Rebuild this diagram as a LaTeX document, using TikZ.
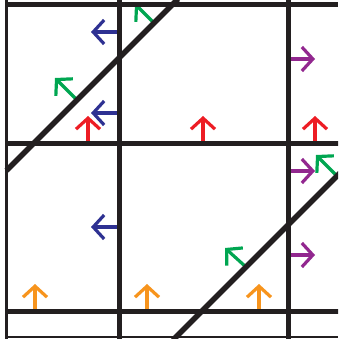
\documentclass[tikz,border=0pt]{standalone}
\usetikzlibrary{arrows.meta}
\definecolor{ink}{HTML}{231F20}
\definecolor{cred}{HTML}{ED1C24}
\definecolor{cblue}{HTML}{2E3192}
\definecolor{cpurple}{HTML}{92278F}
\definecolor{cgreen}{HTML}{00A651}
\definecolor{corange}{HTML}{F7941D}
\begin{document}
\begin{tikzpicture}[x=1pt,y=-1pt,
  gridline/.style={ink, line width=5pt},
  arr/.style={line width=3.2pt, -{Straight Barb[length=11pt,width=24pt]}},
]
\useasboundingbox (0,0) rectangle (338,339);
\clip (0,0) rectangle (338,339);
% blue arrows
\draw[arr,cblue] (118,32) -- (91,32);
\draw[arr,cblue] (118,113) -- (91,113);
\draw[arr,cblue] (118,227) -- (91,227);
% purple arrows
\draw[arr,cpurple] (288,59) -- (315,59);
\draw[arr,cpurple] (288,171) -- (315,171);
\draw[arr,cpurple] (288,255) -- (315,255);
% red arrows
\draw[arr,cred] (88,143) -- (88,116);
\draw[arr,cred] (203,143) -- (203,116);
\draw[arr,cred] (315,143) -- (315,116);
% orange arrows
\draw[arr,corange] (35,311) -- (35,284);
\draw[arr,corange] (147,311) -- (147,284);
\draw[arr,corange] (259,311) -- (259,284);
% green arrows
\draw[arr,cgreen] (76,99) -- (55,78);
\draw[arr,cgreen] (155,24) -- (135,4);
\draw[arr,cgreen] (337,176) -- (316,155);
\draw[arr,cgreen] (246,267) -- (225,248);
% frame
\draw[ink,line width=3pt] (6.5,0) -- (6.5,339);
\draw[gridline] (5,4.5) -- (338,4.5);
\draw[ink,line width=1.5pt] (5,337) -- (338,337);
% grid
\draw[gridline] (6.5,143.5) -- (340,143.5);
\draw[gridline] (6.5,311.5) -- (340,311.5);
\draw[gridline] (119,0) -- (119,340);
\draw[gridline] (288,0) -- (288,340);
% diagonals
\draw[gridline,line width=5.5pt] (6.5,170.5) -- (178,-1);
\draw[gridline,line width=5.5pt] (173,340) -- (340,173);
\end{tikzpicture}
\end{document}
